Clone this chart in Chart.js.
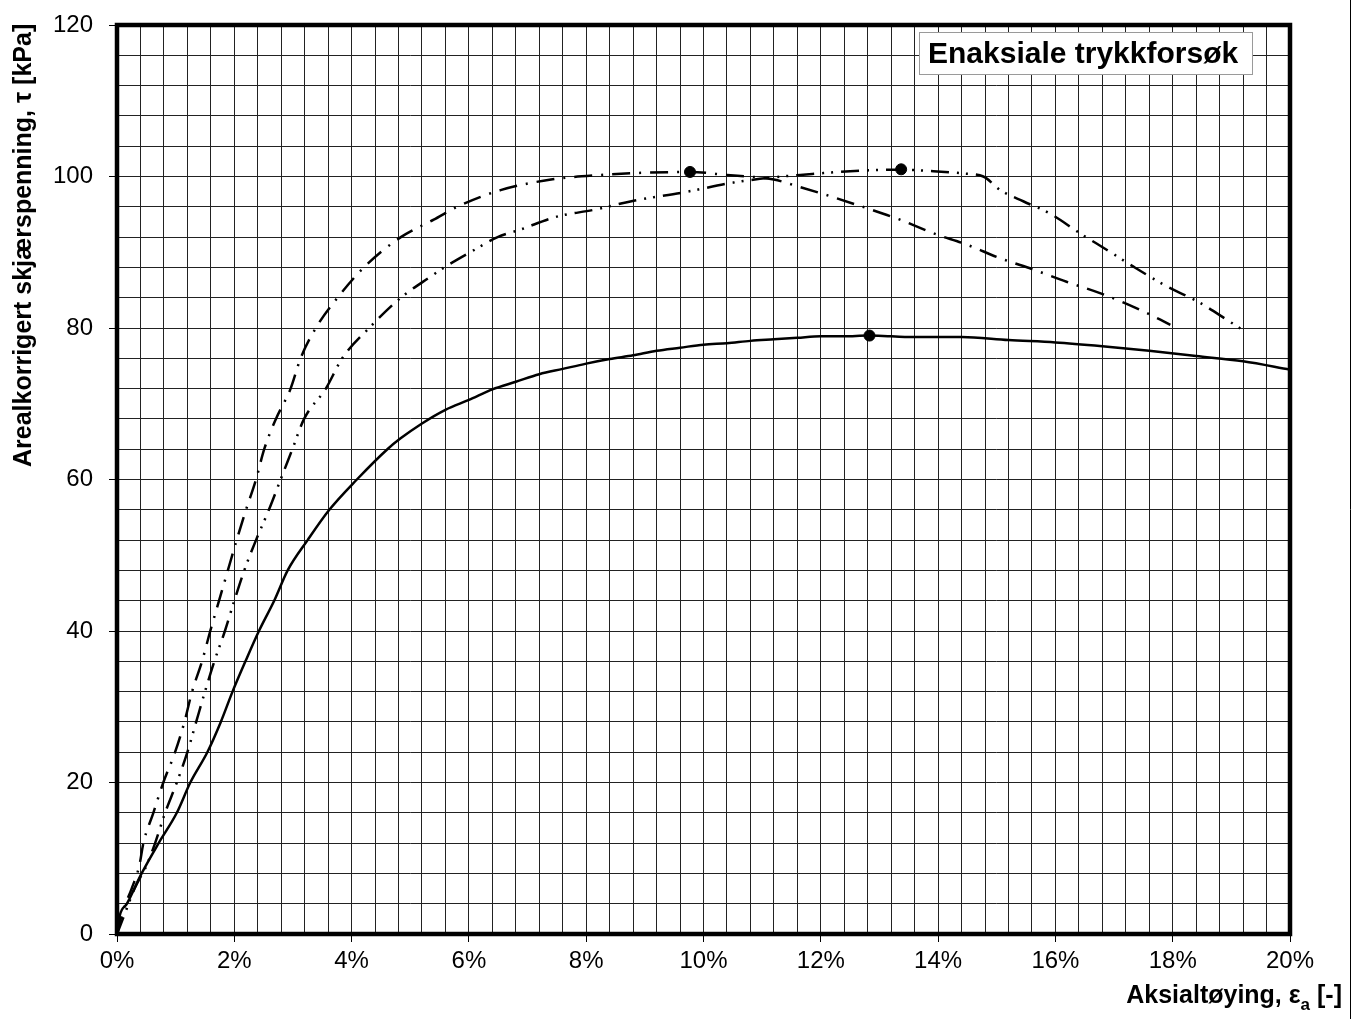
<!DOCTYPE html>
<html>
<head>
<meta charset="utf-8">
<script src="https://cdn.jsdelivr.net/npm/chart.js@4.4.1/dist/chart.umd.min.js"></script>
<style>
  body { margin: 0; background: #fff; }
  canvas { display: block; }
</style>
</head>
<body>
<canvas id="myChart" width="1357" height="1019"></canvas>
<script>
// strain in %, shear stress in kPa
var solidX = [0, 0.05, 0.17, 0.42, 0.71, 1.02, 1.25, 1.54, 1.77, 1.97, 2.19, 2.42, 2.68, 2.91, 3.25, 3.62, 4.09, 4.61, 4.83, 5.2, 5.6, 6.0, 6.4, 6.8, 7.2, 7.6, 8.0, 8.4, 8.8, 9.2, 9.6, 10.0, 10.4, 10.8, 11.2, 11.6, 12.0, 12.4, 12.8, 13.2, 13.64, 14.4, 15.2, 16.0, 16.8, 17.6, 18.4, 19.2, 20.0];
var solidY = [0, 2.5, 4, 8, 12, 16, 20, 24, 28, 32, 36, 40, 44, 48, 52, 56, 60, 64, 65.4, 67.4, 69.2, 70.5, 71.9, 72.9, 73.9, 74.6, 75.3, 75.9, 76.4, 77.0, 77.4, 77.8, 78.0, 78.3, 78.5, 78.7, 78.9, 78.9, 79.0, 78.9, 78.8, 78.8, 78.4, 78.1, 77.6, 77.0, 76.3, 75.6, 74.5];

var dashDotX = [0, 0.1, 0.25, 0.38, 0.45, 0.62, 0.79, 0.99, 1.15, 1.28, 1.45, 1.59, 1.74, 1.89, 2.04, 2.2, 2.37, 2.51, 2.71, 2.96, 3.13, 3.39, 3.76, 4.21, 4.84, 5.4, 5.8, 6.54, 7.4, 8.24, 9.0, 9.77, 10.4, 10.9, 11.2, 11.65, 12.2, 12.79, 13.35, 13.92, 14.49, 15.06, 15.63, 16.19, 16.76, 17.33, 17.79, 17.96];
var dashDotY = [0, 3, 6, 9, 12, 16, 20, 24, 28, 32, 36, 40, 44, 48, 52, 56, 60, 64, 68, 72, 76, 80, 84, 88, 92, 94.3, 96, 98.2, 99.6, 100.2, 100.5, 100.6, 100.2, 99.9, 99.6, 98.6, 97.3, 95.8, 94.3, 92.5, 91, 89.2, 87.7, 86.1, 84.6, 82.8, 81.1, 80.4];

var dashDotDotX = [0, 0.1, 0.3, 0.5, 0.65, 0.82, 1.02, 1.2, 1.35, 1.5, 1.66, 1.84, 2.0, 2.17, 2.37, 2.59, 2.79, 2.99, 3.19, 3.56, 3.84, 4.3, 4.84, 5.35, 5.58, 6.09, 6.49, 6.88, 7.5, 8.13, 8.81, 9.66, 10.51, 11.2, 11.65, 12.5, 13.35, 13.92, 14.43, 14.77, 15.06, 15.46, 15.91, 16.42, 16.88, 17.33, 17.9, 18.47, 18.92, 19.26];
var dashDotDotY = [0, 2, 6, 9, 12, 16, 20, 24, 28, 32, 36, 40, 44, 48, 52, 56, 60, 64, 68, 72, 76, 80, 84, 86.8, 88, 90.3, 92, 93, 94.7, 95.6, 96.8, 97.9, 99.2, 99.9, 100.2, 100.7, 100.9, 100.7, 100.4, 100, 98.2, 96.7, 95.1, 92.5, 90.3, 88.1, 85.5, 83.3, 81.1, 79.4];

// peak points (filled dots)
var peakX = [9.77, 13.37, 12.83];
var peakY = [100.6, 100.95, 79.0];

var xTickLabels = [0, 2, 4, 6, 8, 10, 12, 14, 16, 18, 20];
var yTickLabels = [0, 20, 40, 60, 80, 100, 120];

function toPoints(xs, ys) {
    var pts = [];
    for (var i = 0; i < xs.length; i++) pts.push({x: xs[i], y: ys[i]});
    return pts;
}
function near(v, list) {
    for (var i = 0; i < list.length; i++) if (Math.abs(v - list[i]) < 1e-6) return true;
    return false;
}
//no label overhang padding, the plot area is placed by layout padding alone
function noPad(s) {
    s.paddingTop = 0; s.paddingBottom = 0; s.paddingLeft = 0; s.paddingRight = 0;
}

var font = '"Liberation Sans", Arial, sans-serif';

//draws frame, text box and axis titles on top of the chart
var decorations = {
    id: 'decorations',
    beforeDraw: function(chart) {
        var c = chart.ctx;
        c.save();
        c.fillStyle = '#fff';
        c.fillRect(0, 0, chart.width, chart.height);
        c.restore();
    },
    afterDraw: function(chart) {
        var c = chart.ctx, a = chart.chartArea;
        c.save();
        // thick plot frame
        c.strokeStyle = '#000';
        c.lineWidth = 4.5;
        c.strokeRect(a.left, a.top, a.right - a.left, a.bottom - a.top);
        // outer thin line on the right
        c.lineWidth = 1;
        c.beginPath();
        c.moveTo(1350.5, 0);
        c.lineTo(1350.5, chart.height);
        c.stroke();
        // title box
        c.fillStyle = '#fff';
        c.fillRect(919, 32, 333, 42);
        c.strokeStyle = '#9a9a9a';
        c.strokeRect(919.5, 32.5, 333, 42);
        c.fillStyle = '#000';
        c.font = 'bold 30px ' + font;
        c.textAlign = 'left';
        c.textBaseline = 'alphabetic';
        c.fillText('Enaksiale trykkforsøk', 928, 63);
        // y title
        c.save();
        c.translate(31, 467);
        c.rotate(-Math.PI / 2);
        c.font = 'bold 25px ' + font;
        c.fillText('Arealkorrigert skjærspenning, τ [kPa]', 0, 0);
        c.restore();
        // x title with subscript
        var p1 = 'Aksialtøying, ε', p2 = ' [-]';
        c.font = 'bold 17px ' + font;
        var wSub = c.measureText('a').width;
        c.font = 'bold 25px ' + font;
        var w1 = c.measureText(p1).width, w2 = c.measureText(p2).width;
        var xEnd = 1342;
        var x0 = xEnd - w2 - wSub - w1;
        c.fillText(p1, x0, 1003);
        c.font = 'bold 17px ' + font;
        c.fillText('a', x0 + w1, 1010);
        c.font = 'bold 25px ' + font;
        c.fillText(p2, x0 + w1 + wSub, 1003);
        c.restore();
    }
};

var ctx = document.getElementById('myChart').getContext('2d');
var lineBase = {
    showLine: true,
    borderColor: '#000',
    borderWidth: 2.5,
    pointRadius: 0,
    cubicInterpolationMode: 'monotone'
};
var data = {
    datasets: [{
        label: 'Peaks',
        data: toPoints(peakX, peakY),
        showLine: false,
        pointRadius: 5.5,
        pointBackgroundColor: '#000',
        pointBorderColor: '#000'
    },
    Object.assign({label: 'Solid', data: toPoints(solidX, solidY)}, lineBase),
    Object.assign({label: 'Dash-dot', data: toPoints(dashDotX, dashDotY), borderDash: [18, 9, 2, 9]}, lineBase),
    Object.assign({label: 'Dash-dot-dot', data: toPoints(dashDotDotX, dashDotDotY), borderDash: [18, 8, 2, 7, 2, 8]}, lineBase)
    ]
};

var options = {
    responsive: false,
    animation: false,
    devicePixelRatio: 1,
    layout: {padding: {left: 0, top: 25, right: 67, bottom: 0}},
    plugins: {legend: {display: false}, tooltip: {enabled: false}},
    scales: {
        x: {
            type: 'linear',
            min: 0,
            max: 20,
            afterFit: function(s) { s.height = 85; noPad(s); },
            border: {display: false},
            grid: {
                color: '#222',
                lineWidth: 1,
                tickLength: 8,
                tickColor: function(c) { return c.tick && near(c.tick.value, xTickLabels) ? '#000' : 'rgba(0,0,0,0)'; }
            },
            ticks: {
                stepSize: 0.4,
                autoSkip: false,
                maxRotation: 0,
                padding: 5,
                color: '#000',
                font: {family: font, size: 24},
                callback: function(v) { return near(v, xTickLabels) ? Math.round(v) + '%' : ''; }
            }
        },
        y: {
            min: 0,
            max: 120,
            afterFit: function(s) { s.width = 117; noPad(s); },
            border: {display: false},
            grid: {
                color: '#222',
                lineWidth: 1,
                tickLength: 8,
                tickColor: function(c) { return c.tick && near(c.tick.value, yTickLabels) ? '#000' : 'rgba(0,0,0,0)'; }
            },
            ticks: {
                stepSize: 4,
                autoSkip: false,
                padding: 16,
                color: '#000',
                font: {family: font, size: 24},
                callback: function(v) { return near(v, yTickLabels) ? String(v) : ''; }
            }
        }
    }
};

var chart = new Chart(ctx, {type: 'scatter', data: data, options: options, plugins: [decorations]});
</script>
</body>
</html>
